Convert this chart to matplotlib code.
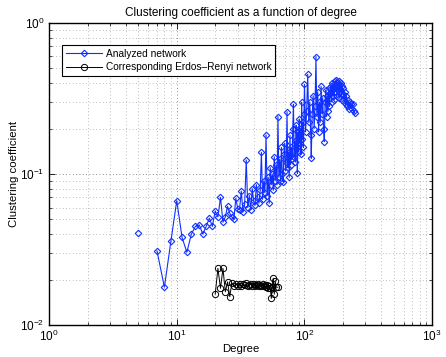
import numpy as np
import matplotlib
matplotlib.use("Agg")
import matplotlib.pyplot as plt
from matplotlib.ticker import LogLocator, NullFormatter

plt.rcParams['font.family'] = ['Liberation Sans', 'DejaVu Sans']
plt.rcParams['mathtext.fontset'] = 'custom'
plt.rcParams['mathtext.rm'] = 'Liberation Sans'

# analyzed network: degree -> clustering coefficient
deg_net = [5, 6, 7, 8, 9, 10, 11, 12, 13, 14, 15, 16, 17, 18, 19, 20, 21, 22, 23, 24,
           25, 26, 27, 28, 29, 30, 31, 32, 33, 34, 35,
           36, 37, 38, 39, 40, 41, 42, 43, 44, 45, 46, 47, 48, 49, 50,
           51, 52, 53, 54, 55, 56, 57, 58, 59, 60, 61, 62, 63, 64, 65,
           66, 67, 68, 69, 70, 71, 72, 73, 74, 75, 76, 77, 78, 79, 80,
           81, 82, 83, 84, 85, 86, 87, 88, 89, 90, 91, 92, 93, 94, 95,
           96, 97, 98, 99, 100,
           102, 104, 106, 108, 110, 112, 113, 115, 117, 119, 121, 123, 125, 127, 129,
           131, 133, 135, 137, 139, 141, 143, 145, 147, 149, 151, 153, 155, 157, 159,
           161, 163, 165, 167, 169, 171, 173, 175, 177, 179, 181, 183, 185, 187, 189,
           191, 193, 195, 197, 199, 201, 204, 207, 210, 213, 216, 219, 222, 226, 230,
           234, 238, 243, 249]
cc_net = [0.0405, np.nan, 0.031, 0.0178, 0.036, 0.0666, 0.038, 0.0303, 0.040, 0.045,
          0.046, 0.040, 0.045, 0.051, 0.045, 0.057, 0.052, 0.070, 0.048, 0.052,
          0.061, 0.055, 0.052, 0.050, 0.069, 0.059, 0.058, 0.077, 0.056, 0.063, 0.124,
          0.060, 0.072, 0.058, 0.080, 0.066, 0.062, 0.085, 0.070, 0.064, 0.078,
          0.139, 0.068, 0.090, 0.075, 0.181,
          0.072, 0.095, 0.064, 0.110, 0.085, 0.100, 0.078, 0.130, 0.090, 0.115,
          0.085, 0.240, 0.095, 0.125, 0.090,
          0.150, 0.100, 0.089, 0.135, 0.160, 0.105, 0.120, 0.259, 0.110, 0.140,
          0.095, 0.180, 0.115, 0.150, 0.125,
          0.200, 0.289, 0.130, 0.165, 0.120, 0.210, 0.150, 0.101, 0.190, 0.140,
          0.230, 0.160, 0.200, 0.135, 0.298,
          0.170, 0.220, 0.150, 0.250, 0.393,
          0.190, 0.260, 0.457, 0.220, 0.300, 0.180, 0.127, 0.250, 0.330, 0.200,
          0.280, 0.598, 0.240, 0.350, 0.190,
          0.300, 0.220, 0.380, 0.250, 0.320, 0.200, 0.164, 0.300, 0.360, 0.240,
          0.330, 0.260, 0.370, 0.280, 0.340,
          0.380, 0.300, 0.400, 0.330, 0.390, 0.310, 0.410, 0.350, 0.420, 0.330,
          0.400, 0.360, 0.410, 0.320, 0.390,
          0.350, 0.400, 0.310, 0.380, 0.340, 0.370, 0.300, 0.350, 0.290, 0.330,
          0.280, 0.310, 0.270, 0.300, 0.290,
          0.270, 0.290, 0.260, 0.252]

# corresponding Erdos-Renyi network
deg_er = [20, 21, 22, 23, 24, 25, 26, 27, 28, 29, 30, 31, 32, 33, 34, 35, 36, 37, 38, 39,
          40, 41, 42, 43, 44, 45, 46, 47, 48, 49, 50, 51, 52, 53, 54, 55, 56, 57, 58, 59,
          60, 62]
cc_er = [0.0160, 0.0237, 0.0175, 0.0237, 0.0166, 0.0193, 0.0154, 0.0190, 0.0180, 0.0187,
         0.0182, 0.0188, 0.0180, 0.0186, 0.0183, 0.0189, 0.0181, 0.0185, 0.0188, 0.0182,
         0.0186, 0.0180, 0.0184, 0.0187, 0.0181, 0.0185, 0.0182, 0.0186, 0.0180, 0.0184,
         0.0178, 0.0183, 0.0177, 0.0180, 0.0176, 0.0150, 0.0178, 0.0204, 0.0160, 0.0195,
         0.0178, 0.0178]

fig = plt.figure(figsize=(4.46, 3.57), dpi=100)
ax = fig.add_axes([0.110, 0.0896, 0.859, 0.846])

ax.loglog(deg_net, cc_net, color='#1030ff', marker='D', markersize=3.3,
          markerfacecolor='none', markeredgewidth=0.8, linewidth=0.8,
          label='Analyzed network')
ax.loglog(deg_er, cc_er, color='black', marker='o', markersize=4.5,
          markerfacecolor='none', markeredgewidth=0.7, linewidth=0.7,
          label='Corresponding Erdos\u2013Renyi network')

ax.set_xlim(1, 1000)
ax.set_ylim(0.01, 1)
ax.xaxis.set_major_locator(LogLocator(base=10, numticks=10))
ax.yaxis.set_major_locator(LogLocator(base=10, numticks=10))
ax.xaxis.set_minor_locator(LogLocator(base=10, subs=np.arange(2, 10), numticks=20))
ax.yaxis.set_minor_locator(LogLocator(base=10, subs=np.arange(2, 10), numticks=20))
ax.xaxis.set_minor_formatter(NullFormatter())
ax.yaxis.set_minor_formatter(NullFormatter())

ax.grid(True, which='major', linestyle=(0, (1, 3)), color='0.4', linewidth=0.6)
ax.grid(True, which='minor', linestyle=(0, (1, 3)), color='0.65', linewidth=0.6)
ax.tick_params(which='both', direction='in', top=True, right=True, labelsize=8.5)
ax.tick_params(which='major', length=4, width=0.6)
ax.tick_params(which='minor', length=2, width=0.5)
ax.tick_params(axis='x', pad=3)
for s in ax.spines.values():
    s.set_linewidth(1.0)

ax.set_title('Clustering coefficient as a function of degree', fontsize=8.5, pad=5)
ax.set_xlabel('Degree', fontsize=8.2, labelpad=0)
ax.set_ylabel('Clustering coefficient', fontsize=8.2, labelpad=1)

leg = ax.legend(loc='upper left', bbox_to_anchor=(0.034, 0.927), borderaxespad=0,
                fontsize=7.3, handlelength=3.6, fancybox=False, framealpha=1,
                borderpad=0.35, labelspacing=0.35, handletextpad=0.4)
leg.get_frame().set_edgecolor('black')
leg.get_frame().set_linewidth(0.8)

fig.savefig('out.png', dpi=100)
